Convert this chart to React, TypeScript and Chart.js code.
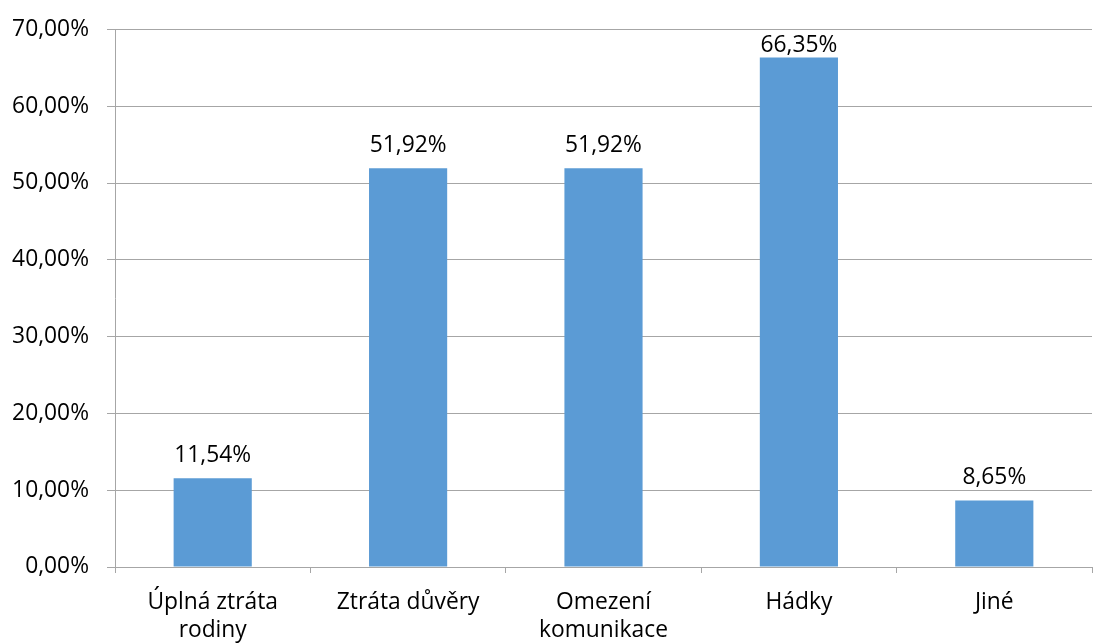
import React, { useEffect, useRef } from "react";
import { Chart, registerables } from "chart.js";

Chart.register(...registerables);

const categories: (string | string[])[] = [
  ["Úplná ztráta", "rodiny"],
  "Ztráta důvěry",
  ["Omezení", "komunikace"],
  "Hádky",
  "Jiné",
];
const values: number[] = [11.54, 51.92, 51.92, 66.35, 8.65];
const yMin = 0;
const yMax = 70;
const yStep = 10;

const fmt = (v: number) => v.toFixed(2).replace(".", ",") + "%";

const FONT = "'Open Sans', sans-serif";
const FS = 22.8;

const labelPlugin = {
  id: "valueLabels",
  afterDatasetsDraw(chart: any) {
    const ctx = chart.ctx;
    const meta = chart.getDatasetMeta(0);
    ctx.save();
    ctx.font = `${FS}px ${FONT}`;
    ctx.fillStyle = "#000";
    ctx.textAlign = "center";
    ctx.textBaseline = "middle";
    meta.data.forEach((bar: any, i: number) => {
      const y = Math.max(bar.y - 23, chart.chartArea.top + 16);
      ctx.fillText(fmt(values[i]), bar.x, y);
    });
    ctx.restore();
  },
};

export default function App() {
  const ref = useRef<HTMLCanvasElement | null>(null);
  useEffect(() => {
    document.body.style.margin = "0";
    if (!ref.current) return;
    const chart = new Chart(ref.current, {
      type: "bar",
      data: {
        labels: categories,
        datasets: [
          {
            data: values,
            backgroundColor: "#5B9BD5",
            borderWidth: 0,
            categoryPercentage: 1,
            barPercentage: 0.4,
          },
        ],
      },
      options: {
        animation: false,
        responsive: false,
        maintainAspectRatio: false,
        layout: { padding: { top: 27, right: 2, left: 0, bottom: 0 } },
        plugins: {
          legend: { display: false },
          tooltip: { enabled: false },
        },
        scales: {
          x: {
            grid: {
              offset: true,
              drawOnChartArea: false,
              tickLength: 6,
              color: "#a6a6a6",
            },
            border: { color: "#a6a6a6" },
            ticks: {
              color: "#000",
              font: { family: FONT, size: FS, lineHeight: 1.24 },
              padding: 15,
              maxRotation: 0,
              autoSkip: false,
            },
            afterFit: (s: any) => {
              s.height = 76;
            },
          },
          y: {
            min: yMin,
            max: yMax,
            grid: { color: "#a6a6a6", tickLength: 8 },
            border: { color: "#a6a6a6" },
            ticks: {
              stepSize: yStep,
              color: "#000",
              padding: 18,
              font: { family: FONT, size: FS, lineHeight: 1 },
              callback: (v: any) => fmt(Number(v)),
            },
            afterFit: (s: any) => {
              s.width = 115;
            },
          },
        },
      },
      plugins: [labelPlugin],
    });
    return () => chart.destroy();
  }, []);
  return (
    <div style={{ position: "absolute", left: 0, top: 0, width: 1094, height: 643, background: "#fff" }}>
      <canvas ref={ref} width={1094} height={643} />
    </div>
  );
}
